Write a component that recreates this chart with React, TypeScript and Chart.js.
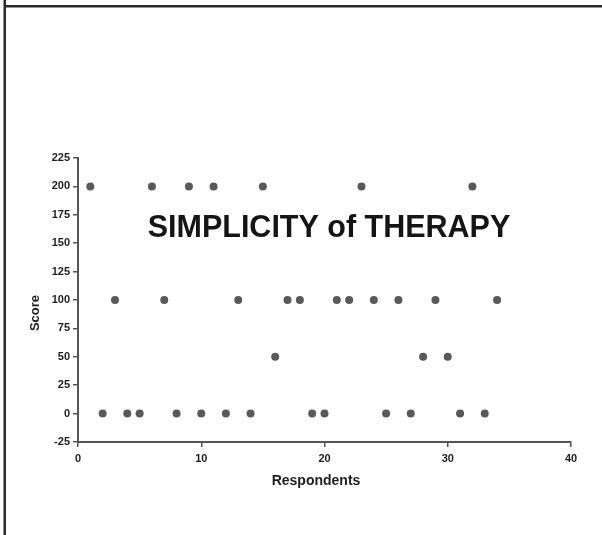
import React, { useEffect, useRef } from "react";
import { Chart, registerables } from "chart.js";

Chart.register(...registerables);

const respondents = [
  1, 2, 3, 4, 5, 6, 7, 8, 9, 10, 11, 12, 13, 14, 15, 16, 17,
  18, 19, 20, 21, 22, 23, 24, 25, 26, 27, 28, 29, 30, 31, 32, 33, 34,
];
const scores = [
  200, 0, 100, 0, 0, 200, 100, 0, 200, 0, 200, 0, 100, 0, 200, 50, 100,
  100, 0, 0, 100, 100, 200, 100, 0, 100, 0, 50, 100, 50, 0, 200, 0, 100,
];
const xRange = [0, 40];
const xStep = 10;
const yRange = [-25, 225];
const yStep = 25;
const chartTitle = "SIMPLICITY of THERAPY";
const xTitle = "Respondents";
const yTitle = "Score";

const FONT = "'Liberation Sans', Arial, sans-serif";

const decorPlugin = {
  id: "decor",
  beforeDraw(chart: any) {
    const ctx = chart.ctx;
    ctx.save();
    ctx.fillStyle = "#ffffff";
    ctx.fillRect(0, 0, chart.width, chart.height);
    ctx.fillStyle = "#2a2a2a";
    ctx.fillRect(4, 5, chart.width - 4, 2.5);
    ctx.fillRect(3.5, 0, 2.5, chart.height);
    ctx.restore();
  },
  afterDraw(chart: any) {
    const ctx = chart.ctx;
    const a = chart.chartArea;
    ctx.save();
    ctx.fillStyle = "#151515";
    ctx.font = `bold 30.5px ${FONT}`;
    ctx.textAlign = "center";
    ctx.textBaseline = "alphabetic";
    ctx.fillText(chartTitle, a.left + 251, a.top + 79);

    ctx.font = `bold 14px ${FONT}`;
    ctx.fillStyle = "#1e1e1e";
    ctx.fillText(xTitle, a.left + 238, 485);

    ctx.translate(38.5, 313);
    ctx.rotate(-Math.PI / 2);
    ctx.font = `bold 13px ${FONT}`;
    ctx.fillText(yTitle, 0, 0);
    ctx.restore();
  },
};

export default function App() {
  const ref = useRef<HTMLCanvasElement | null>(null);

  useEffect(() => {
    if (!ref.current) return;
    const chart = new Chart(ref.current, {
      type: "scatter",
      data: {
        datasets: [
          {
            data: respondents.map((r, i) => ({ x: r, y: scores[i] })),
            pointRadius: 4,
            pointBackgroundColor: "#595959",
            pointBorderColor: "#595959",
            pointBorderWidth: 0,
          },
        ],
      },
      options: {
        animation: false,
        responsive: false,
        maintainAspectRatio: false,
        devicePixelRatio: 1,
        layout: { padding: { left: 0, top: 158, right: 31, bottom: 0 } },
        plugins: {
          legend: { display: false },
          tooltip: { enabled: false },
          title: { display: false },
        },
        scales: {
          x: {
            type: "linear",
            min: xRange[0],
            max: xRange[1],
            afterFit: (s: any) => {
              s.height = 93;
            },
            ticks: {
              stepSize: xStep,
              color: "#1e1e1e",
              padding: 5,
              font: { family: FONT, size: 11, weight: "bold" },
            },
            grid: {
              display: true,
              drawOnChartArea: false,
              drawTicks: true,
              tickLength: 5,
              color: "#555555",
              lineWidth: 1.5,
            },
            border: { display: true, color: "#555555", width: 2 },
          },
          y: {
            type: "linear",
            min: yRange[0],
            max: yRange[1],
            afterFit: (s: any) => {
              s.width = 78;
            },
            ticks: {
              stepSize: yStep,
              color: "#1e1e1e",
              padding: 3,
              font: { family: FONT, size: 11, weight: "bold" },
            },
            grid: {
              display: true,
              drawOnChartArea: false,
              drawTicks: true,
              tickLength: 5,
              color: "#555555",
              lineWidth: 1.5,
            },
            border: { display: true, color: "#555555", width: 2 },
          },
        },
      },
      plugins: [decorPlugin],
    });
    return () => chart.destroy();
  }, []);

  return (
    <div style={{ position: "absolute", left: 0, top: 0, width: 602, height: 535 }}>
      <canvas ref={ref} width={602} height={535} style={{ width: 602, height: 535, display: "block" }} />
    </div>
  );
}
